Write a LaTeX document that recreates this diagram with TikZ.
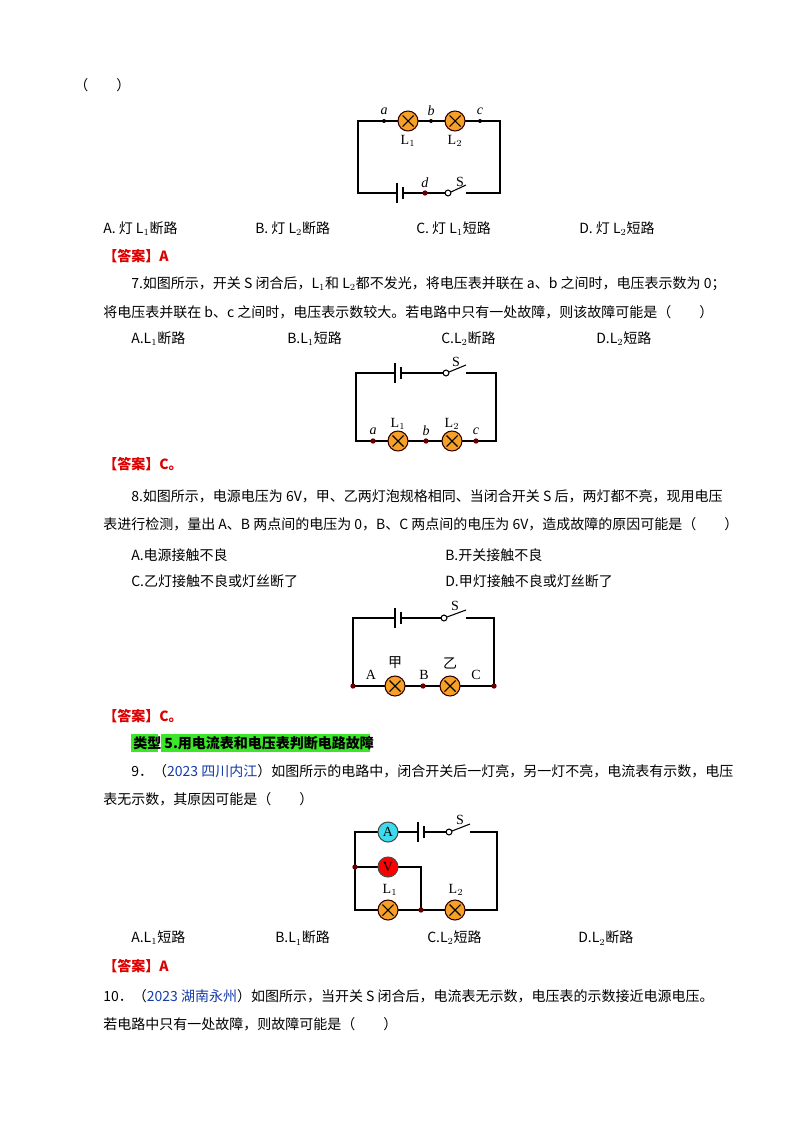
\documentclass[tikz,border=0pt]{standalone}
\usepackage{fontspec}
\setmainfont{Liberation Serif}
\newfontfamily\cjk{Noto Sans CJK SC}
\definecolor{lampor}{RGB}{247,160,40}
\definecolor{ansred}{RGB}{220,0,0}
\definecolor{hl}{RGB}{60,230,40}
\definecolor{amc}{RGB}{60,220,240}
\definecolor{yrblue}{RGB}{20,60,170}
\newcommand\mylamp[2]{\fill[lampor,draw=black!80!red,line width=0.8pt] (#1,#2) circle[radius=7.5pt];
 \draw[line width=0.8pt] (#1-5.5,#2-5.5)--(#1+5.5,#2+5.5) (#1-5.5,#2+5.5)--(#1+5.5,#2-5.5);}
\newcommand\mybatt[2]{\fill[white] (#1-3,#2-8) rectangle (#1+4,#2+8);
 \draw[line width=0.8pt] (#1-3,#2-10)--(#1-3,#2+10); \draw[line width=2pt] (#1+3,#2-6)--(#1+3,#2+6);}
\newcommand\myswitch[3]{\fill[white] (#1-3,#2-8) rectangle (#3,#2+3);
 \draw[line width=0.8pt,fill=white] (#1,#2) circle[radius=2.2pt]; \draw[line width=0.8pt] (#1+3,#2-1)--(#3,#2-8);}
\newcommand\mydot[2]{\fill[black!60!red] (#1,#2) circle[radius=2pt];}
\begin{document}
\begin{tikzpicture}[x=0.75pt,y=-0.75pt,
  t/.style={anchor=west,inner sep=0,font=\cjk\fontsize{10.5pt}{12pt}\selectfont},
  ans/.style={t,text=ansred,font=\cjk\bfseries\fontsize{10.5pt}{12pt}\selectfont},
  lab/.style={inner sep=0,font=\fontsize{10.5pt}{12pt}\selectfont},
  w/.style={line width=0.8pt}]
\useasboundingbox (0,0) rectangle (794,1123);
\fill[white] (0,0) rectangle (794,1123);
\node[t] (q0) at (74,85) {（\hspace{2em}）};
% circuit 1
\draw[w] (358,121) rectangle (500,193);
\mylamp{408}{121}\mylamp{455}{121}
\foreach \x in {384,431,480}{\fill (\x,121) circle[radius=1.5pt];}
\node[lab] (a1) at (384,111) {\textit{a}};\node[lab] (b1) at (431,111) {\textit{b}};\node[lab] (c1) at (480,111) {\textit{c}};
\node[lab] (l11) at (408,141) {L$_1$};\node[lab] (l21) at (455,141) {L$_2$};
\mybatt{400}{193}\mydot{425}{193}\node[lab] (d1) at (425,183) {\textit{d}};
\myswitch{448}{193}{466}\node[lab] (s1) at (460,182) {S};
\node[t] (o1a) at (103,229) {A. 灯 L$_1$断路};
\node[t] (o1b) at (255,229) {B. 灯 L$_2$断路};
\node[t] (o1c) at (416,229) {C. 灯 L$_1$短路};
\node[t] (o1d) at (579,229) {D. 灯 L$_2$短路};
\node[ans] (an1) at (103,256) {【答案】A};
\node[t] (q7a) at (131,284) {7.如图所示，开关 S 闭合后，L$_1$和 L$_2$都不发光，将电压表并联在 a、b 之间时，电压表示数为 0；};
\node[t] (q7b) at (103,312) {将电压表并联在 b、c 之间时，电压表示数较大。若电路中只有一处故障，则该故障可能是（\hspace{2em}）};
\node[t] (o7a) at (131,339) {A.L$_1$断路};
\node[t] (o7b) at (287,339) {B.L$_1$短路};
\node[t] (o7c) at (441,339) {C.L$_2$断路};
\node[t] (o7d) at (596,339) {D.L$_2$短路};
% circuit 2
\draw[w] (356,373) rectangle (496,441);
\mybatt{398}{373}\myswitch{446}{373}{466}\node[lab] (s2) at (456,362) {S};
\mylamp{398}{441}\mylamp{452}{441}
\foreach \x in {373,426,476}{\mydot{\x}{441}}
\node[lab] (a2) at (373,431) {\textit{a}};\node[lab] (b2) at (426,431) {\textit{b}};\node[lab] (c2) at (476,431) {\textit{c}};
\node[lab] (l12) at (398,424) {L$_1$};\node[lab] (l22) at (452,424) {L$_2$};
\node[ans] (an2) at (103,464) {【答案】C。};
\node[t] (q8a) at (131,496) {8.如图所示，电源电压为 6V，甲、乙两灯泡规格相同、当闭合开关 S 后，两灯都不亮，现用电压};
\node[t] (q8b) at (103,524) {表进行检测，量出 A、B 两点间的电压为 0，B、C 两点间的电压为 6V，造成故障的原因可能是（\hspace{2em}）};
\node[t] (o8a) at (131,555) {A.电源接触不良};
\node[t] (o8b) at (445,555) {B.开关接触不良};
\node[t] (o8c) at (131,581) {C.乙灯接触不良或灯丝断了};
\node[t] (o8d) at (445,581) {D.甲灯接触不良或灯丝断了};
% circuit 3
\draw[w] (353,618) rectangle (494,686);
\mybatt{398}{618}\myswitch{444}{618}{466}\node[lab] (s3) at (455,606) {S};
\mylamp{395}{686}\mylamp{450}{686}
\foreach \x in {353,423,494}{\mydot{\x}{686}}
\node[lab] (A3) at (371,675) {A};\node[lab] (B3) at (424,675) {B};\node[lab] (C3) at (476,675) {C};
\node[t,anchor=center] (j3) at (395,663) {甲};\node[t,anchor=center] (y3) at (450,663) {乙};
\node[ans] (an3) at (103,716) {【答案】C。};
\fill[hl] (131,734) rectangle (158,752);\fill[hl] (161,734) rectangle (370,752);
\node[t] (h5) at (133,743) {\bfseries 类型 5.用电流表和电压表判断电路故障};
\node[t] (q9a) at (131,771) {9．（\textcolor{yrblue}{2023 四川内江}）如图所示的电路中，闭合开关后一灯亮，另一灯不亮，电流表有示数，电压};
\node[t] (q9b) at (103,799) {表无示数，其原因可能是（\hspace{2em}）};
% circuit 4
\draw[w] (355,832) rectangle (497,910);
\draw[w] (355,867) -- (421,867) -- (421,910);
\fill[amc,draw=black!70,w] (388,832) circle[radius=7.5pt];\node[lab] (am) at (388,832) {A};
\fill[red,draw=black!70,w] (388,867) circle[radius=7.5pt];\node[lab] (vm) at (388,867) {V};
\mybatt{421}{832}\myswitch{449}{832}{470}\node[lab] (s4) at (460,820) {S};
\mylamp{388}{910}\mylamp{455}{910}
\mydot{355}{867}\mydot{421}{910}
\node[lab] (l14) at (390,890) {L$_1$};\node[lab] (l24) at (456,890) {L$_2$};
\node[t] (o9a) at (131,938) {A.L$_1$短路};
\node[t] (o9b) at (275,938) {B.L$_1$断路};
\node[t] (o9c) at (427,938) {C.L$_2$短路};
\node[t] (o9d) at (578,938) {D.L$_2$断路};
\node[ans] (an4) at (103,966) {【答案】A};
\node[t] (q10a) at (103,996) {10．（\textcolor{yrblue}{2023 湖南永州}）如图所示，当开关 S 闭合后，电流表无示数，电压表的示数接近电源电压。};
\node[t] (q10b) at (103,1024) {若电路中只有一处故障，则故障可能是（\hspace{2em}）};
\end{tikzpicture}
\end{document}
